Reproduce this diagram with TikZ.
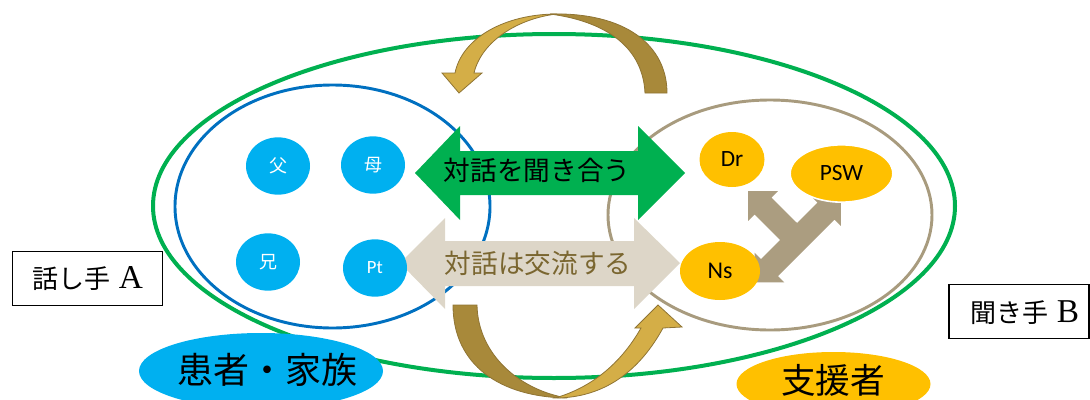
\documentclass[tikz,border=0pt]{standalone}
\usepackage{fontspec}
\setmainfont{Liberation Serif}
\newfontfamily\cjk{Noto Sans CJK JP}
\newfontfamily\calfont{Carlito}
\usetikzlibrary{shapes.geometric}
\definecolor{grn}{HTML}{00B050}
\definecolor{blu}{HTML}{0070C0}
\definecolor{sky}{HTML}{00B0F0}
\definecolor{orng}{HTML}{FFC000}
\definecolor{tanline}{HTML}{A89B7E}
\definecolor{beige}{HTML}{DDD6C8}
\definecolor{yfill}{HTML}{AB9D80}
\definecolor{brn}{HTML}{7A6630}
\definecolor{goldlt}{HTML}{D4AE47}
\definecolor{golddk}{HTML}{A8893A}
\definecolor{goldln}{HTML}{8F7434}
\begin{document}
\begin{tikzpicture}[x=0.75pt,y=-0.75pt,
  bluedot/.style={ellipse, fill=sky, inner sep=0pt, minimum width=48pt, minimum height=43pt,
    text=white, font=\cjk\fontsize{13.5pt}{14pt}\selectfont},
  orangedot/.style={ellipse, fill=orng, inner sep=0pt, font=\calfont\fontsize{17.5pt}{18pt}\selectfont},
  bubble/.style={ellipse, inner sep=0pt},
  golddark/.style={fill=golddk, draw=goldln, line width=0.6pt},
  goldlight/.style={fill=goldlt, draw=goldln, line width=0.6pt},
  labelbox/.style={draw=black, line width=0.8pt, fill=white, inner sep=0pt},
  arrowtext/.style={font=\cjk\fontsize{20pt}{21pt}\selectfont, inner sep=0pt},
  bigtext/.style={font=\cjk\fontsize{27pt}{28pt}\selectfont, inner sep=0pt}
]
\useasboundingbox (0,0) rectangle (1090,400);

% outer ellipses
\draw[grn, line width=3pt] (554,206) ellipse [x radius=401, y radius=172];
\draw[blu, line width=2.2pt] (332.5,206.5) ellipse [x radius=157.5, y radius=121.5];
\draw[tanline, line width=2.2pt] (770,215) ellipse [x radius=162, y radius=115];

% top curved arrow
\draw[golddark] (550,14) .. controls (625,12) and (667,45) .. (667,93) -- (645,93)
  .. controls (643,50) and (610,22) .. (550,14) -- cycle;
\draw[goldlight] (455,73) .. controls (462,38) and (505,14) .. (557,14)
  .. controls (520,18) and (482,40) .. (474,73) -- (482,73) -- (459,93) -- (442,73) -- cycle;

% bottom curved arrow
\draw[golddark] (453,305) .. controls (453,365) and (500,397) .. (567,398)
  .. controls (520,390) and (478,355) .. (477,305) -- cycle;
\draw[goldlight] (555,398) .. controls (605,398) and (640,370) .. (663,328) -- (682,327)
  -- (658,305) -- (635,328) -- (641,328) .. controls (620,365) and (590,388) .. (555,398) -- cycle;

% double arrows
\fill[grn] (415,173) -- (460,126) -- (460,151) -- (638,151) -- (638,126) -- (685,173)
  -- (638,220) -- (638,195) -- (460,195) -- (460,220) -- cycle;
\fill[beige] (400,263) -- (445,218) -- (445,241) -- (634,241) -- (634,218) -- (680,263)
  -- (634,309) -- (634,286) -- (445,286) -- (445,309) -- cycle;
\node[arrowtext] (listen) at (537,170) {対話を聞き合う};
\node[arrowtext, text=brn] (exch) at (538,263) {対話は交流する};

% three-headed arrow
\fill[yfill] (840.8,196.2) -- (811.1,196.2) -- (817.5,202.5) -- (797,223) -- (771.5,197.6)
  -- (777.9,191.2) -- (748.2,191.2) -- (748.2,220.9) -- (754.6,214.5) -- (780,240)
  -- (760.9,259.1) -- (754.6,252.7) -- (754.6,282.4) -- (784.3,282.4) -- (777.9,276.1)
  -- (834.5,219.5) -- (840.8,225.9) -- cycle;

% family members
\node[bluedot] (father) at (278,166) {父};
\node[bluedot] (mother) at (373,165) {母};
\node[bluedot] (brother) at (268,262) {兄};
\node[bluedot, font=\calfont\fontsize{14pt}{15pt}\selectfont] (pt) at (375,268) {Pt};

% supporters
\node[orangedot, minimum width=48.75pt, minimum height=41.25pt] (dr) at (732,159.5) {Dr};
\node[orangedot, minimum width=77pt, minimum height=43pt, draw=white, line width=1.2pt] (psw) at (841.5,173.5) {PSW};
\node[orangedot, minimum width=60pt, minimum height=43.5pt, font=\calfont\fontsize{18pt}{19pt}\selectfont] (ns) at (720,271) {Ns};

% bottom bubbles
\node[bubble, fill=sky, minimum width=183pt, minimum height=57pt] (famb) at (261,371) {};
\node[bigtext] (famt) at (267,370) {患者・家族};
\node[bubble, fill=orng, minimum width=145.5pt, minimum height=48pt] (supb) at (833.5,384) {};
\node[bigtext, font=\cjk\fontsize{26pt}{27pt}\selectfont] (supt) at (833,380) {支援者};

% speaker / listener boxes
\node[labelbox, minimum width=113pt, minimum height=41pt] (boxa) at (87.5,278.5) {};
\node[inner sep=0pt] (texta) at (88,279) {{\cjk\fontsize{19.5pt}{21pt}\selectfont 話し手}\hspace{6pt}{\fontsize{25pt}{25pt}\selectfont A}};
\node[labelbox, minimum width=105pt, minimum height=41pt] (boxb) at (1019,311.5) {};
\node[inner sep=0pt] (textb) at (1025,313) {{\cjk\fontsize{19.5pt}{21pt}\selectfont 聞き手}\hspace{6pt}{\fontsize{25pt}{25pt}\selectfont B}};
\end{tikzpicture}
\end{document}
